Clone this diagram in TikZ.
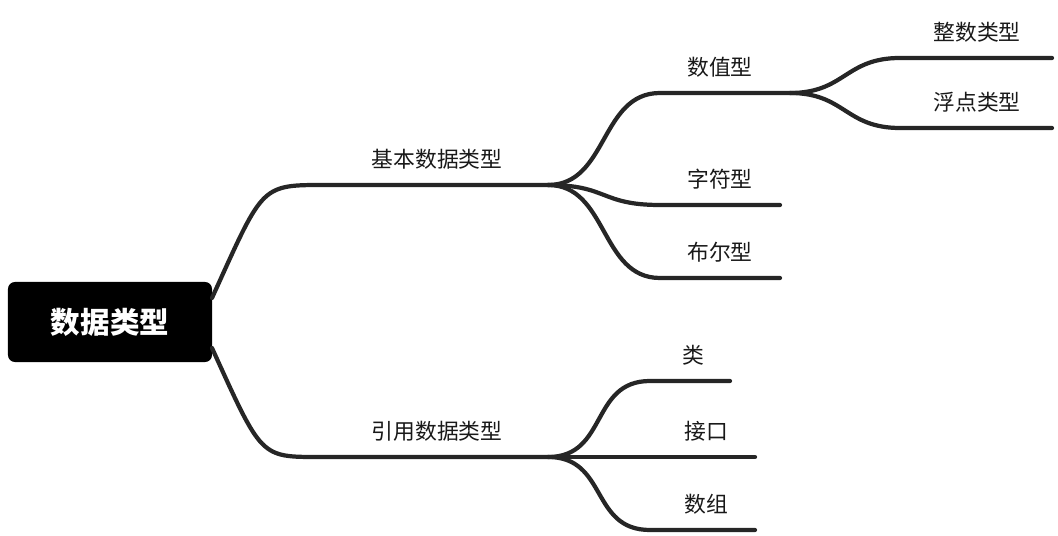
\documentclass[tikz,border=0pt]{standalone}
\usepackage{fontspec}
\setmainfont{Noto Sans CJK SC}
\begin{document}
\begin{tikzpicture}[
    x=0.025cm, y=-0.025cm,
    link/.style={line width=3pt, draw=black!85, line cap=round},
    label/.style={anchor=base, font=\fontsize{15.5}{18}\selectfont, text=black!90, inner sep=0pt},
    root/.style={fill=black, rounded corners=5pt, text=white, font=\fontsize{21}{24}\selectfont\bfseries, minimum width=5.1cm, minimum height=2cm}
]
\useasboundingbox (0,0) rectangle (1058,536);

% root
\node[root] (data) at (110,322) {数据类型};
\coordinate (dataN) at (212,298);
\coordinate (dataS) at (212,348);

% first level
\coordinate (basicL) at (320,185); \coordinate (basicR) at (548,185);
\coordinate (refL) at (320,457); \coordinate (refR) at (548,457);
\node[label] (basic) at (437,168) {基本数据类型};
\node[label] (ref) at (437,440) {引用数据类型};

% second level
\coordinate (numL) at (660,93); \coordinate (numR) at (790,93);
\coordinate (charL) at (660,205); \coordinate (charR) at (780,205);
\coordinate (boolL) at (660,278); \coordinate (boolR) at (780,278);
\coordinate (clsL) at (650,381); \coordinate (clsR) at (730,381);
\coordinate (ifaceL) at (650,457); \coordinate (ifaceR) at (755,457);
\coordinate (arrL) at (650,530); \coordinate (arrR) at (755,530);
\node[label] (num) at (720,76) {数值型};
\node[label] (char) at (720,188) {字符型};
\node[label] (bool) at (720,261) {布尔型};
\node[label] (cls) at (693,364) {类};
\node[label] (iface) at (706,440) {接口};
\node[label] (arr) at (706,513) {数组};

% third level
\coordinate (intL) at (900,58); \coordinate (intR) at (1052,58);
\coordinate (fltL) at (900,128); \coordinate (fltR) at (1052,128);
\node[label] (int) at (977,41) {整数类型};
\node[label] (flt) at (977,111) {浮点类型};

% connectors
\draw[link] (dataN) .. controls +(50,-110) and +(-60,0) .. (basicL) -- (basicR);
\draw[link] (dataS) .. controls +(50,110) and +(-60,0) .. (refL) -- (refR);
\foreach \a/\b in {num/numR, char/charR, bool/boolR}
  \draw[link] (basicR) .. controls +(60,0) and +(-60,0) .. (\a L) -- (\b);
\foreach \a/\b in {cls/clsR, iface/ifaceR, arr/arrR}
  \draw[link] (refR) .. controls +(60,0) and +(-60,0) .. (\a L) -- (\b);
\foreach \a/\b in {int/intR, flt/fltR}
  \draw[link] (numR) .. controls +(55,0) and +(-55,0) .. (\a L) -- (\b);
\end{tikzpicture}
\end{document}
